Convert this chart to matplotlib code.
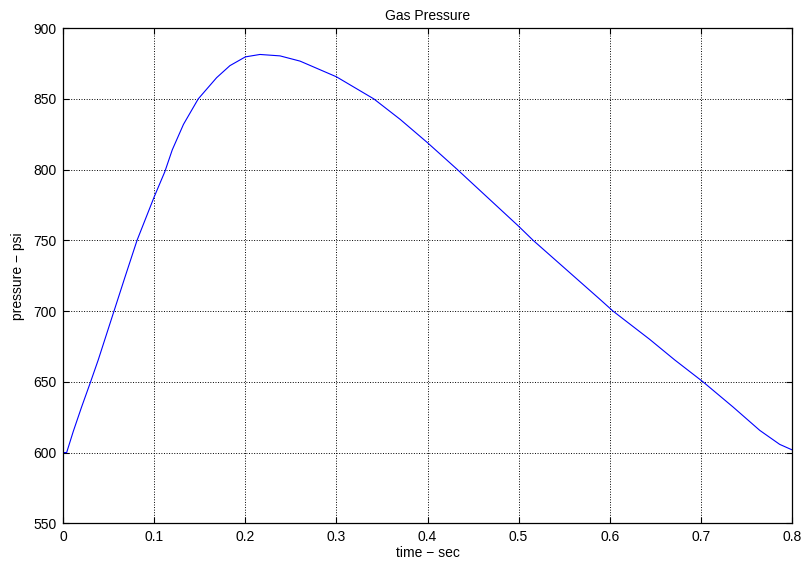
import numpy as np
import matplotlib.pyplot as plt

# data ==================================================================================================================
time_sec = [0.0, 0.0037, 0.011, 0.020, 0.030, 0.0384, 0.0557, 0.068, 0.081, 0.100, 0.1115, 0.1197, 0.132,
            0.1482, 0.1684, 0.183, 0.200, 0.216, 0.238, 0.260, 0.300, 0.341, 0.370, 0.400, 0.432, 0.500,
            0.516, 0.589, 0.6037, 0.644, 0.6714, 0.7025, 0.7355, 0.7648, 0.7867, 0.800]
pressure_psi = [600, 600, 615, 632, 650, 665.5, 700, 724.5, 750, 781, 798.5, 814, 832,
                850, 865, 873.5, 879.7, 881.4, 880.4, 876.7, 865.6, 850, 835.5, 819, 800.5, 760,
                750, 708.5, 700, 680, 665.5, 650, 632.2, 615.7, 605.8, 602]

x_ticks = [0, 0.1, 0.2, 0.3, 0.4, 0.5, 0.6, 0.7, 0.8]
x_tick_labels = ["0", "0.1", "0.2", "0.3", "0.4", "0.5", "0.6", "0.7", "0.8"]
y_ticks = [550, 600, 650, 700, 750, 800, 850, 900]

plt.rcParams['font.family'] = ['Liberation Sans', 'DejaVu Sans']

fig = plt.figure(figsize=(8.05, 5.63), dpi=100)
ax = fig.add_axes([0.0786, 0.0705, 0.905, 0.8795])

ax.plot(time_sec, pressure_psi, color='#0000ff', lw=0.8)

ax.set_xlim(0, 0.8)
ax.set_ylim(550, 900)
ax.set_xticks(x_ticks)
ax.set_xticklabels(x_tick_labels)
ax.set_yticks(y_ticks)

ax.grid(True, color='black', linestyle=':', linewidth=0.7)
ax.tick_params(direction='in', top=True, right=True, length=4, labelsize=10, pad=5)
for s in ax.spines.values():
    s.set_linewidth(0.9)

ax.set_title("Gas Pressure", fontsize=10, pad=6)
ax.set_xlabel("time \u2212 sec", fontsize=10, labelpad=1)
ax.set_ylabel("pressure \u2212 psi", fontsize=10, labelpad=6)

fig.savefig("out.png", dpi=100)
